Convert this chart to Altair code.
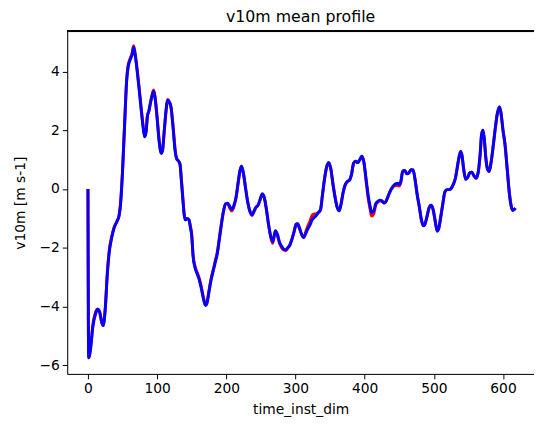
import altair as alt
import pandas as pd

time = [0, 1, 4, 7, 11, 14, 17, 20, 22, 25, 28, 31, 34, 38, 42, 45, 47, 50, 53, 56,
        58, 61, 64, 66, 68, 71, 74, 77, 80, 82, 84, 86, 88, 90, 93, 95, 97, 100, 103, 106,
        108, 110, 113, 115, 118, 120, 123, 126, 128, 131, 133, 135, 137, 139, 141, 143, 146, 148, 150, 152,
        155, 158, 161, 164, 167, 170, 172, 175, 178, 181, 184, 187, 190, 193, 196, 199, 202, 205, 208, 211,
        214, 217, 220, 222, 225, 228, 231, 234, 237, 240, 243, 246, 249, 252, 255, 258, 261, 264, 267, 269,
        271, 274, 277, 280, 283, 286, 289, 292, 295, 298, 301, 303, 306, 309, 312, 315, 318, 321, 324, 327,
        330, 333, 336, 339, 342, 345, 348, 351, 354, 357, 360, 363, 366, 369, 372, 375, 378, 381, 384, 387,
        390, 393, 396, 399, 402, 405, 408, 410, 413, 416, 419, 422, 425, 428, 430, 433, 436, 439, 442, 445,
        448, 450, 452, 455, 458, 461, 464, 467, 470, 473, 476, 479, 482, 485, 487, 490, 493, 496, 499, 502,
        505, 507, 510, 513, 516, 519, 522, 525, 528, 531, 534, 537, 539, 541, 543, 546, 549, 552, 555, 558,
        561, 564, 567, 569, 571, 573, 575, 578, 580, 583, 586, 589, 592, 595, 597, 600, 603, 606, 609, 612,
        614, 616, 618]

blue_v = [0.0, -5.75, -5.4, -4.7, -4.25, -4.1, -4.2, -4.55, -4.65, -4.1, -2.9, -2.1, -1.7, -1.3, -1.1, -0.9, -0.55, 0.6, 2.2, 3.7,
          4.15, 4.4, 4.6, 4.83, 4.6, 4.05, 3.4, 2.7, 2.05, 1.78, 1.95, 2.5, 2.65, 2.9, 3.2, 3.33, 3.1, 2.4, 1.6, 1.22,
          1.35, 1.9, 2.7, 3.03, 2.95, 2.8, 2.1, 1.3, 1.05, 0.95, 0.85, 0.3, -0.3, -0.85, -1.05, -1.0, -1.05, -1.3, -1.6, -2.3,
          -2.7, -2.9, -3.1, -3.4, -3.75, -3.97, -3.9, -3.5, -3.1, -2.8, -2.5, -2.2, -1.7, -1.2, -0.75, -0.5, -0.48, -0.6, -0.7, -0.55,
          -0.3, 0.2, 0.65, 0.78, 0.5, 0.0, -0.45, -0.75, -0.88, -0.75, -0.62, -0.55, -0.35, -0.17, -0.3, -0.7, -1.2, -1.6, -1.8, -1.6,
          -1.42, -1.55, -1.82, -1.95, -2.05, -2.07, -2.0, -1.9, -1.7, -1.45, -1.2, -1.18, -1.35, -1.55, -1.65, -1.5, -1.35, -1.22, -1.05, -0.97,
          -0.9, -0.8, -0.72, -0.2, 0.35, 0.75, 0.9, 0.7, 0.2, -0.25, -0.6, -0.74, -0.5, -0.1, 0.15, 0.26, 0.3, 0.5, 0.88, 0.95,
          0.9, 1.0, 1.12, 0.9, 0.35, -0.2, -0.6, -0.8, -0.75, -0.5, -0.42, -0.38, -0.4, -0.47, -0.45, -0.3, -0.12, 0.02, 0.12, 0.18,
          0.2, 0.15, 0.22, 0.6, 0.63, 0.52, 0.55, 0.66, 0.65, 0.3, -0.2, -0.6, -1.05, -1.25, -1.2, -0.95, -0.65, -0.55, -0.7, -1.1,
          -1.43, -1.35, -0.95, -0.5, -0.1, -0.02, -0.02, 0.02, 0.15, 0.35, 0.75, 1.15, 1.28, 1.1, 0.7, 0.33, 0.4, 0.55, 0.57, 0.45,
          0.37, 0.55, 1.2, 1.85, 2.0, 1.7, 1.1, 0.65, 0.6, 0.95, 1.5, 2.1, 2.6, 2.8, 2.6, 2.0, 1.5, 0.7, -0.1, -0.6,
          -0.72, -0.7, -0.65]

red_v = [0.0, -5.75, -5.35, -4.65, -4.2, -4.1, -4.2, -4.55, -4.65, -4.05, -2.85, -2.05, -1.65, -1.3, -1.1, -0.9, -0.5, 0.65, 2.25, 3.75,
         4.2, 4.45, 4.65, 4.88, 4.65, 4.1, 3.45, 2.75, 2.1, 1.8, 1.95, 2.5, 2.65, 2.9, 3.25, 3.38, 3.15, 2.45, 1.65, 1.22,
         1.35, 1.9, 2.7, 3.05, 2.95, 2.8, 2.15, 1.35, 1.05, 0.95, 0.85, 0.35, -0.25, -0.85, -1.05, -1.0, -1.05, -1.25, -1.55, -2.25,
         -2.65, -2.85, -3.05, -3.35, -3.7, -3.95, -3.85, -3.45, -3.05, -2.75, -2.45, -2.15, -1.65, -1.15, -0.75, -0.5, -0.5, -0.65, -0.75, -0.6,
         -0.3, 0.2, 0.65, 0.78, 0.5, 0.0, -0.45, -0.75, -0.9, -0.78, -0.62, -0.55, -0.35, -0.17, -0.3, -0.7, -1.2, -1.6, -1.85, -1.65,
         -1.45, -1.6, -1.85, -2.0, -2.08, -2.1, -2.0, -1.9, -1.7, -1.45, -1.2, -1.18, -1.35, -1.55, -1.65, -1.45, -1.25, -1.1, -0.9, -0.85,
         -0.85, -0.8, -0.72, -0.2, 0.35, 0.75, 0.9, 0.7, 0.2, -0.25, -0.6, -0.74, -0.5, -0.1, 0.15, 0.26, 0.3, 0.5, 0.88, 0.95,
         0.9, 1.0, 1.12, 0.9, 0.3, -0.3, -0.7, -0.92, -0.85, -0.55, -0.45, -0.4, -0.42, -0.48, -0.45, -0.3, -0.12, 0.02, 0.1, 0.12,
         0.12, 0.1, 0.2, 0.6, 0.63, 0.52, 0.55, 0.66, 0.65, 0.3, -0.2, -0.6, -1.05, -1.25, -1.2, -0.95, -0.65, -0.55, -0.7, -1.1,
         -1.43, -1.35, -0.95, -0.5, -0.1, -0.02, -0.02, 0.02, 0.15, 0.35, 0.75, 1.15, 1.28, 1.1, 0.7, 0.33, 0.4, 0.55, 0.57, 0.45,
         0.37, 0.55, 1.2, 1.85, 2.0, 1.7, 1.1, 0.65, 0.6, 0.95, 1.5, 2.1, 2.6, 2.8, 2.6, 2.0, 1.5, 0.7, -0.1, -0.6,
         -0.72, -0.7, -0.65]

x_ticks = [0, 100, 200, 300, 400, 500, 600]
y_ticks = [-6, -4, -2, 0, 2, 4]

FONT = "DejaVu Sans"
W, H = 473, 347

red_df = pd.DataFrame({"t": time, "v": red_v})
blue_df = pd.DataFrame({"t": time, "v": blue_v})

x_enc = alt.X("t:Q", title="time_inst_dim",
              scale=alt.Scale(domain=[-30, 644.8], nice=False, zero=False),
              axis=alt.Axis(values=x_ticks, format="d", grid=False, tickSize=5,
                            tickColor="black", domainColor="black", labelColor="black",
                            labelFontSize=14, labelFont=FONT, labelPadding=3,
                            titleFont=FONT, titleFontSize=14, titleFontWeight="normal",
                            titleColor="black", titlePadding=7, labelFlush=False))
y_enc = alt.Y("v:Q", title="v10m [m s-1]",
              scale=alt.Scale(domain=[-6.30, 5.37], nice=False, zero=False),
              axis=alt.Axis(values=y_ticks, format="d", grid=False, tickSize=5,
                            tickColor="black", domainColor="black", labelColor="black",
                            labelFontSize=14, labelFont=FONT, labelPadding=3,
                            titleFont=FONT, titleFontSize=14, titleFontWeight="normal",
                            titleColor="black", titlePadding=12, labelFlush=False))

red_line = alt.Chart(red_df).mark_line(color="red", strokeWidth=3, interpolate="monotone").encode(
    x=x_enc, y=y_enc, order="t:Q")
blue_line = alt.Chart(blue_df).mark_line(color="blue", strokeWidth=3, interpolate="monotone").encode(
    x="t:Q", y="v:Q", order="t:Q")
top_border = alt.Chart(blue_df).mark_rule(color="black", strokeWidth=1).encode(
    x=alt.value(0), x2=alt.value(W), y=alt.value(0))

chart = alt.layer(red_line, blue_line, top_border).properties(
    width=W, height=H,
    title=alt.TitleParams("v10m mean profile", font=FONT, fontSize=16, fontWeight="normal",
                          color="black", anchor="middle", offset=6),
    autosize=alt.AutoSizeParams(type="none"),
    padding={"left": 60, "top": 21, "right": 0, "bottom": 49},
).configure_view(stroke=None).configure(background="white")

chart.save("out.html", embed_options={"renderer": "svg", "actions": False})
